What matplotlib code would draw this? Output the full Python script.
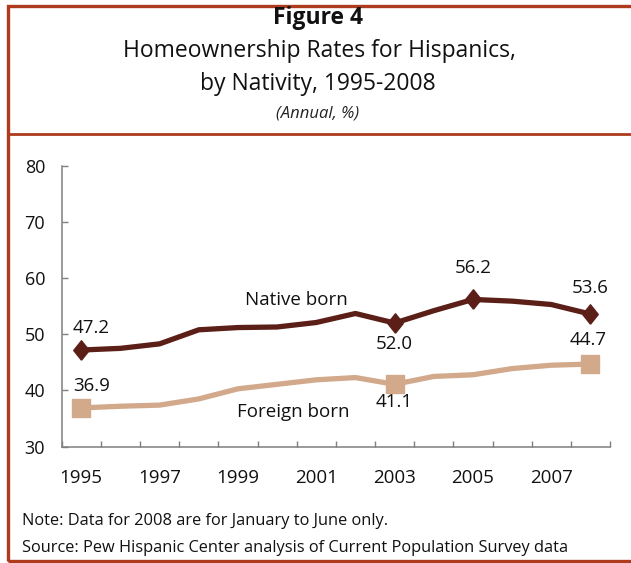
import matplotlib
matplotlib.use("Agg")
import matplotlib.pyplot as plt
from matplotlib.lines import Line2D
from matplotlib.patches import Rectangle

years = [1995, 1996, 1997, 1998, 1999, 2000, 2001, 2002, 2003, 2004, 2005, 2006, 2007, 2008]
native_born = [47.2, 47.5, 48.3, 50.8, 51.2, 51.3, 52.1, 53.7, 52.0, 54.2, 56.2, 55.9, 55.3, 53.6]
foreign_born = [36.9, 37.2, 37.4, 38.5, 40.3, 41.1, 41.9, 42.3, 41.1, 42.5, 42.8, 43.9, 44.5, 44.7]
xtick_labels = ["1995", "1997", "1999", "2001", "2003", "2005", "2007"]
yticks = [30, 40, 50, 60, 70, 80]

native_color = "#5B1F18"
foreign_color = "#D2A98B"
frame_color = "#AE3B1D"
FONT = "Open Sans"

W, H = 631, 563
fig = plt.figure(figsize=(W / 100, H / 100), dpi=100)
plt.rcParams["font.family"] = FONT


def fx(px):
    return px / W


def fy(py):
    return 1 - py / H


# Frame
fig.patches.append(Rectangle((fx(7.5), fy(561)), fx(640) - fx(7.5), fy(6) - fy(561),
                             transform=fig.transFigure, fill=False,
                             edgecolor=frame_color, linewidth=2.4))
fig.lines.append(Line2D([fx(7.5), fx(640)], [fy(134), fy(134)], transform=fig.transFigure,
                        color=frame_color, linewidth=2.0))

# Titles
fig.text(fx(318), fy(18.5), "Figure 4", ha="center", va="center", fontsize=16.5,
         fontweight="bold", color="#111111")
fig.text(fx(319), fy(51), "Homeownership Rates for Hispanics,", ha="center", va="center",
         fontsize=16.5, color="#111111")
fig.text(fx(318), fy(84), "by Nativity, 1995-2008", ha="center", va="center",
         fontsize=16.5, color="#111111")
fig.text(fx(318), fy(114), "(Annual, %)", ha="center", va="center", fontsize=12,
         style="italic", color="#222222")

# Axes
left, right, bottom, top = 61.7, 610, 446.7, 165.7
ax = fig.add_axes([fx(left), fy(bottom), fx(right) - fx(left), fy(top) - fy(bottom)])
x = list(range(len(years)))
ax.set_xlim(-0.5, len(years) - 0.5)
ax.set_ylim(30, 80)

diamond = [(0, -1), (0.8, 0), (0, 1), (-0.8, 0), (0, -1)]
ax.plot(x, native_born, color=native_color, linewidth=3.8, solid_joinstyle="round",
        zorder=3)
ax.plot(x, foreign_born, color=foreign_color, linewidth=3.8, solid_joinstyle="round",
        zorder=3)
mk_idx = [0, 8, 10, 13]
mkf_idx = [0, 8, 13]
ax.plot([x[i] for i in mk_idx], [native_born[i] for i in mk_idx], linestyle="none",
        marker=diamond, markersize=14, color=native_color, zorder=4)
ax.plot([x[i] for i in mkf_idx], [foreign_born[i] for i in mkf_idx], linestyle="none",
        marker="s", markersize=13, color=foreign_color, zorder=4)

for s in ["top", "right"]:
    ax.spines[s].set_visible(False)
for s in ["left", "bottom"]:
    ax.spines[s].set_color("#7f7f7f")
    ax.spines[s].set_linewidth(1.1)

ax.set_yticks(yticks)
ax.set_yticklabels([str(v) for v in yticks])
ax.tick_params(axis="y", direction="in", length=4, width=1, color="#7f7f7f",
               labelsize=13, pad=12, labelcolor="#111111")
ax.set_xticks([i - 0.5 for i in range(len(years) + 1)])
ax.set_xticklabels([""] * (len(years) + 1))
ax.tick_params(axis="x", which="major", direction="in", length=4, width=1,
               color="#7f7f7f")
ax.set_xticks(list(range(0, len(years), 2)), minor=True)
ax.set_xticklabels(xtick_labels, minor=True)
ax.tick_params(axis="x", which="minor", length=0, labelsize=13.5, pad=16,
               labelcolor="#111111")

# Labels
lab = dict(ha="center", va="center", fontsize=13.5, color="#111111")
ax.text(0.24, 51.1, "47.2", **lab)
ax.text(0.27, 40.8, "36.9", **lab)
ax.text(8.0, 48.2, "52.0", **lab)
ax.text(8.0, 38.0, "41.1", **lab)
ax.text(10.0, 61.8, "56.2", **lab)
ax.text(13.0, 58.2, "53.6", **lab)
ax.text(12.95, 49.0, "44.7", **lab)
ax.text(5.48, 56.1, "Native born", **lab)
ax.text(5.41, 36.2, "Foreign born", **lab)

# Notes
fig.text(fx(22), fy(521), "Note: Data for 2008 are for January to June only.",
         ha="left", va="center", fontsize=11.8, color="#111111")
fig.text(fx(22), fy(548), "Source: Pew Hispanic Center analysis of Current Population Survey data",
         ha="left", va="center", fontsize=11.8, color="#111111")

fig.savefig("out.png", dpi=100)
